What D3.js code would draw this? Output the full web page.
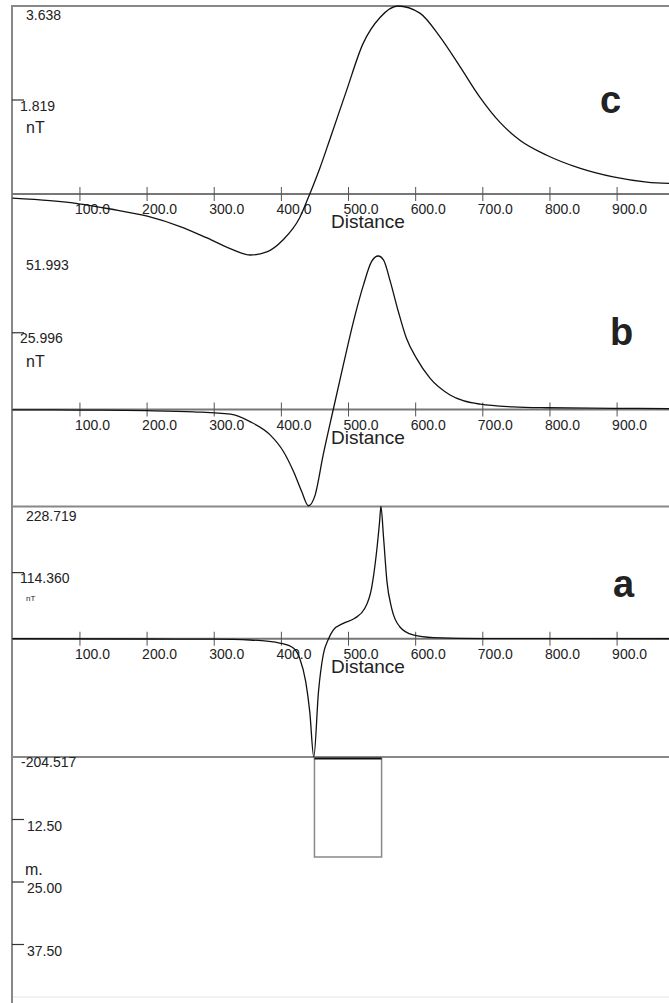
<!DOCTYPE html>
<html>
<head>
<meta charset="utf-8">
<script src="https://cdn.jsdelivr.net/npm/d3@7"></script>
<style>
  body { margin: 0; background: #fff; }
  text { font-family: "Liberation Sans", Arial, sans-serif; fill: #222; }
</style>
</head>
<body>
<svg id="chart" width="669" height="1003"></svg>
<script>
// profile c
var distC = [0, 56, 99, 146, 201, 250, 290, 329, 354, 379, 403, 428, 443, 458, 473, 498, 522, 548, 574,
             607, 637, 667, 696, 726, 756, 796, 845, 895, 945, 990];
var valC  = [-0.08, -0.13, -0.19, -0.29, -0.43, -0.63, -0.85, -1.08, -1.18, -1.12, -0.89, -0.46, 0, 0.50,
             1.06, 2.01, 2.90, 3.42, 3.638, 3.50, 3.04, 2.46, 1.88, 1.39, 1.04, 0.75, 0.50, 0.33, 0.23, 0.20];

// profile b
var distB = [0, 100, 200, 270, 325, 354, 384, 404, 419, 431, 441, 451, 463, 478, 493, 508, 523, 535, 545,
             553, 563, 575, 587, 602, 622, 652, 697, 746, 796, 895, 990];
var valB  = [-0.1, -0.2, -0.4, -0.8, -1.6, -4.1, -8.6, -14.3, -21.1, -27.8, -32.6, -29.0, -15.4, 0, 15.1,
             29.7, 42.2, 50.1, 51.993, 50.6, 43.3, 33.1, 24.1, 17.3, 10.6, 4.9, 1.8, 0.9, 0.6, 0.4, 0.3];

// profile a
var distA = [0, 200, 299, 354, 400, 419, 428, 437, 443, 449, 456, 463, 471, 478, 493, 510, 525, 535, 542,
             547, 549, 553, 558, 565, 577, 597, 627, 700, 990];
var valA  = [0, -0.4, -0.8, -2.2, -7.9, -16.5, -33.8, -74.3, -126, -204.517, -91.6, -28.1, 0, 15.1, 26.7,
             35.4, 52.7, 87.3, 144.9, 202.4, 228.719, 173.7, 98.7, 52.7, 20.8, 6.5, 1.8, 0.2, 0];

// source body (distance from/to, depth from/to in m)
var bodyDist = [450, 550];
var bodyDepth = [0, 20];

var xTicks = [100, 200, 300, 400, 500, 600, 700, 800, 900];
var depthTicks = [12.5, 25, 37.5];
var maxLabels = ["3.638", "51.993", "228.719"];
var midValues = [1.819, 25.996, 114.360];
var midLabels = ["1.819", "25.996", "114.360"];
var panelNames = ["c", "b", "a"];

var W = 669, H = 1003, left = 12;
var svg = d3.select("#chart");

var x = d3.scaleLinear().domain([0, 900]).range([12.3, 616.6]);

var panels = [
  { dist: distC, val: valC, y: d3.scaleLinear().domain([0, 3.638]).range([194, 6]),
    top: 6, unit: 16, unitDy: 33, letterX: 600, letterY: 113 },
  { dist: distB, val: valB, y: d3.scaleLinear().domain([0, 51.993]).range([409.5, 256]),
    top: 256, unit: 16, unitDy: 34, letterX: 610, letterY: 345 },
  { dist: distA, val: valA, y: d3.scaleLinear().domain([-204.517, 228.719]).range([757, 506.5]),
    top: 506.5, unit: 8, unitDy: 28, letterX: 613, letterY: 597 }
];

var depth = d3.scaleLinear().domain([0, 12.5]).range([757, 819.5]);

// frame lines
svg.append("line").attr("x1", left).attr("x2", W).attr("y1", 6).attr("y2", 6)
  .attr("stroke", "#888").attr("stroke-width", 2);
svg.append("line").attr("x1", left).attr("x2", W).attr("y1", 506.5).attr("y2", 506.5)
  .attr("stroke", "#888").attr("stroke-width", 2);
svg.append("line").attr("x1", left).attr("x2", W).attr("y1", 757).attr("y2", 757)
  .attr("stroke", "#888").attr("stroke-width", 2);
svg.append("line").attr("x1", left).attr("x2", W).attr("y1", 997).attr("y2", 997)
  .attr("stroke", "#e4e4e4").attr("stroke-width", 1);
svg.append("line").attr("x1", left).attr("x2", left).attr("y1", 5).attr("y2", H)
  .attr("stroke", "#888").attr("stroke-width", 2);

panels.forEach(function (p, i) {
  var zero = p.y(0);
  var g = svg.append("g");

  // zero line
  g.append("line").attr("x1", left).attr("x2", W).attr("y1", zero).attr("y2", zero)
    .attr("stroke", "#777").attr("stroke-width", 1.8);

  // distance axis
  var ax = g.append("g").attr("transform", "translate(0," + zero + ")")
    .call(d3.axisBottom(x).tickValues(xTicks).tickFormat(d3.format(".1f")).tickSize(7));
  ax.select(".domain").remove();
  ax.selectAll(".tick line").attr("y1", -7).attr("y2", 7).attr("stroke", "#555").attr("stroke-width", 1);
  ax.selectAll(".tick text").attr("x", -5).attr("y", 20).attr("dy", null)
    .attr("text-anchor", "start").style("font-size", "14px")
    .style("font-family", "'Liberation Sans', Arial, sans-serif").attr("fill", "#222");

  g.append("text").attr("x", 331).attr("y", zero + 34).style("font-size", "19px").text("Distance");

  // curve
  var pts = p.dist.map(function (d, k) { return [d, p.val[k]]; });
  var line = d3.line()
    .x(function (d) { return x(d[0]); })
    .y(function (d) { return p.y(d[1]); })
    .curve(d3.curveMonotoneX);
  g.append("path").attr("d", line(pts)).attr("fill", "none")
    .attr("stroke", "#111").attr("stroke-width", 1.3);

  // vertical axis labels
  g.append("text").attr("x", 26).attr("y", p.top + 14).style("font-size", "14px").text(maxLabels[i]);
  var my = p.y(midValues[i]);
  g.append("line").attr("x1", left).attr("x2", 24).attr("y1", my).attr("y2", my)
    .attr("stroke", "#333").attr("stroke-width", 1.2);
  g.append("text").attr("x", 20).attr("y", my + 10.5).style("font-size", "14px").text(midLabels[i]);
  g.append("text").attr("x", 26).attr("y", my + p.unitDy).style("font-size", p.unit + "px").text("nT");

  // panel letter
  g.append("text").attr("x", p.letterX).attr("y", p.letterY)
    .style("font-size", "38px").style("font-weight", "bold").attr("fill", "#111").text(panelNames[i]);
});

// depth section
svg.append("text").attr("x", 21).attr("y", 767).style("font-size", "14px").text("-204.517");
depthTicks.forEach(function (t) {
  var ty = depth(t);
  svg.append("line").attr("x1", left).attr("x2", 24).attr("y1", ty).attr("y2", ty)
    .attr("stroke", "#333").attr("stroke-width", 1.2);
  svg.append("text").attr("x", 27).attr("y", ty + 11).style("font-size", "14px").text(d3.format(".2f")(t));
});
svg.append("text").attr("x", 25).attr("y", 875).style("font-size", "16px").text("m.");

svg.append("rect")
  .attr("x", x(bodyDist[0])).attr("y", depth(bodyDepth[0]) + 1)
  .attr("width", x(bodyDist[1]) - x(bodyDist[0]))
  .attr("height", depth(bodyDepth[1]) - depth(bodyDepth[0]) - 1)
  .attr("fill", "none").attr("stroke", "#888").attr("stroke-width", 1.5);
svg.append("line")
  .attr("x1", x(bodyDist[0])).attr("x2", x(bodyDist[1]))
  .attr("y1", depth(bodyDepth[0]) + 1.5).attr("y2", depth(bodyDepth[0]) + 1.5)
  .attr("stroke", "#111").attr("stroke-width", 2);
</script>
</body>
</html>
